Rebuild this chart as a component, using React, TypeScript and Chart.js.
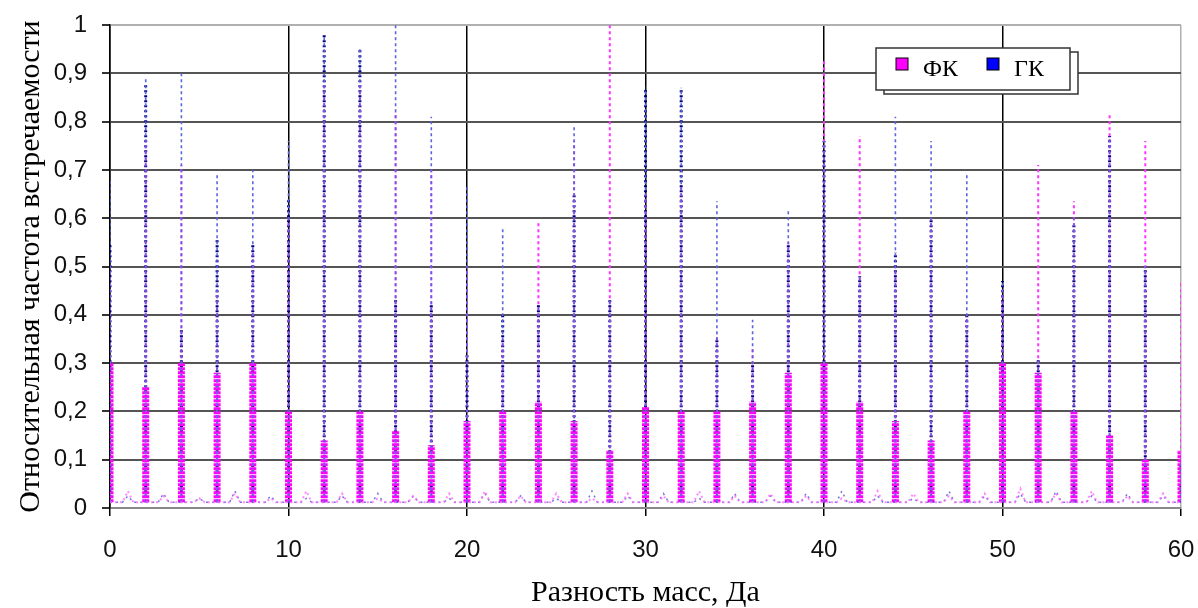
import React, { useEffect, useRef } from "react";
import { Chart, registerables } from "chart.js";

Chart.register(...registerables);

// Even mass differences where the peaks sit
const peakPositions = [0, 2, 4, 6, 8, 10, 12, 14, 16, 18, 20, 22, 24, 26, 28, 30, 32, 34, 36, 38, 40, 42, 44, 46, 48, 50, 52, 54, 56, 58, 60];
// ФК (magenta): top of the thin part and height of the thick core
const fkPeak = [0.5, 0.76, 0.71, 0.45, 0.53, 0.6, 0.88, 0.88, 0.82, 0.7, 0.5, 0.35, 0.59, 0.76, 1.0, 0.65, 0.67, 0.36, 0.33, 0.55, 0.93, 0.77, 0.5, 0.6, 0.4, 0.45, 0.71, 0.635, 0.815, 0.76, 0.47];
const fkCore = [0.3, 0.25, 0.3, 0.28, 0.3, 0.2, 0.14, 0.2, 0.16, 0.13, 0.18, 0.2, 0.22, 0.18, 0.12, 0.21, 0.2, 0.2, 0.22, 0.28, 0.3, 0.22, 0.18, 0.14, 0.2, 0.3, 0.28, 0.2, 0.15, 0.1, 0.12];
// ГК (blue): top of the thin part and height of the dense dark part
const gkPeak = [0.68, 0.89, 0.9, 0.69, 0.7, 0.76, 0.98, 0.95, 1.0, 0.81, 0.67, 0.58, 0.42, 0.79, 0.43, 0.87, 0.87, 0.635, 0.39, 0.62, 0.76, 0.48, 0.81, 0.76, 0.69, 0.47, 0.31, 0.6, 0.77, 0.5, 0.1];
const gkCore = [0.55, 0.88, 0.37, 0.56, 0.55, 0.64, 0.98, 0.95, 0.43, 0.42, 0.32, 0.4, 0.42, 0.65, 0.43, 0.87, 0.87, 0.35, 0.3, 0.55, 0.76, 0.48, 0.53, 0.6, 0.4, 0.47, 0.31, 0.59, 0.77, 0.5, 0.1];
// Small bumps at odd mass differences
const bumpPositions = [1, 3, 5, 7, 9, 11, 13, 15, 17, 19, 21, 23, 25, 27, 29, 31, 33, 35, 37, 39, 41, 43, 45, 47, 49, 51, 53, 55, 57, 59];
const fkBump = [0.035, 0.025, 0.02, 0.03, 0.02, 0.035, 0.03, 0.02, 0.025, 0.03, 0.035, 0.025, 0.03, 0.02, 0.03, 0.025, 0.035, 0.025, 0.03, 0.025, 0.02, 0.035, 0.03, 0.025, 0.03, 0.04, 0.03, 0.035, 0.025, 0.03];
const gkBump = [0.025, 0.03, 0.02, 0.035, 0.025, 0.02, 0.025, 0.03, 0.025, 0.02, 0.03, 0.025, 0.02, 0.035, 0.025, 0.03, 0.02, 0.03, 0.025, 0.03, 0.035, 0.025, 0.02, 0.035, 0.025, 0.03, 0.035, 0.025, 0.03, 0.025];
const baseLevel = 0.012;

const seriesLabels = ["ФК", "ГК"];
const legendColors = ["#ff00ff", "#0000ff"];
const xTitle = "Разность масс, Да";
const yTitle = "Относительная частота встречаемости";

function spikes(xs: number[], hs: number[]) {
  const pts: any[] = [];
  xs.forEach((x, i) => {
    pts.push({ x, y: baseLevel });
    pts.push({ x, y: hs[i] });
    pts.push({ x: x + 0.001, y: null });
  });
  return pts;
}

function baseline(xs: number[], hs: number[]) {
  const pts: any[] = [{ x: 0, y: baseLevel }];
  xs.forEach((x, i) => {
    pts.push({ x: x - 0.3, y: baseLevel });
    pts.push({ x, y: hs[i] });
    pts.push({ x: x + 0.3, y: baseLevel });
  });
  pts.push({ x: 60, y: baseLevel });
  return pts;
}

const legendPlugin = {
  id: "boxLegend",
  afterDraw(chart: any) {
    const { ctx, chartArea } = chart;
    const left = chartArea.right - 305;
    const top = chartArea.top + 23;
    const w = 194;
    const h = 42;
    ctx.save();
    ctx.lineWidth = 1.5;
    ctx.strokeStyle = "#333";
    ctx.fillStyle = "#fff";
    ctx.fillRect(left + 8, top + 4, w, h);
    ctx.strokeRect(left + 8, top + 4, w, h);
    ctx.fillRect(left, top, w, h);
    ctx.strokeRect(left, top, w, h);
    const itemX = [left + 20, left + 111];
    seriesLabels.forEach((lab, i) => {
      ctx.fillStyle = legendColors[i];
      ctx.fillRect(itemX[i], top + 10, 12, 12);
      ctx.lineWidth = 1;
      ctx.strokeStyle = "#000";
      ctx.strokeRect(itemX[i], top + 10, 12, 12);
      ctx.fillStyle = "#000";
      ctx.font = "24px 'Liberation Serif', serif";
      ctx.textBaseline = "middle";
      ctx.fillText(lab, itemX[i] + 27, top + 22);
    });
    ctx.restore();
  },
};

export default function App() {
  const ref = useRef<HTMLCanvasElement>(null);
  useEffect(() => {
    if (!ref.current) return;
    const chart = new Chart(ref.current, {
      type: "line",
      data: {
        datasets: [
          {
            label: "base-fk",
            data: baseline(bumpPositions, fkBump),
            borderColor: "rgba(255,110,255,0.8)",
            borderWidth: 2,
            borderDash: [2, 3],
            pointRadius: 0,
          },
          {
            label: "base-gk",
            data: baseline(bumpPositions, gkBump),
            borderColor: "rgba(60,60,200,0.7)",
            borderWidth: 1.5,
            borderDash: [2, 4],
            pointRadius: 0,
          },
          {
            label: seriesLabels[1] + " thin",
            data: spikes(peakPositions, gkPeak),
            borderColor: "#5a64dc",
            borderWidth: 1.6,
            borderDash: [3, 3],
            pointRadius: 0,
            spanGaps: false,
          },
          {
            label: seriesLabels[0] + " thin",
            data: spikes(peakPositions, fkPeak),
            borderColor: "#ff33ff",
            borderWidth: 2,
            borderDash: [3, 3],
            pointRadius: 0,
            spanGaps: false,
          },
          {
            label: seriesLabels[0],
            data: spikes(peakPositions, fkCore),
            borderColor: "#ff00ff",
            borderWidth: 7,
            borderDash: [3, 1],
            pointRadius: 0,
            spanGaps: false,
          },
          {
            label: seriesLabels[1],
            data: spikes(peakPositions, gkCore),
            borderColor: "#000080",
            borderWidth: 3,
            borderDash: [2, 3],
            pointRadius: 0,
            spanGaps: false,
          },
        ],
      },
      options: {
        animation: false,
        responsive: true,
        maintainAspectRatio: false,
        layout: { padding: { top: 25, right: 17, left: 0, bottom: 0 } },
        plugins: { legend: { display: false }, tooltip: { enabled: false } },
        elements: { line: { tension: 0 } },
        scales: {
          x: {
            type: "linear",
            min: 0,
            max: 60,
            afterFit: (s: any) => {
              s.height = 100;
              s.paddingLeft = 0;
              s.paddingRight = 0;
            },
            ticks: {
              stepSize: 10,
              color: "#111",
              font: { family: "'Liberation Sans', Arial, sans-serif", size: 24 },
              padding: 20,
              maxRotation: 0,
            },
            grid: {
              color: (c: any) => (c.tick && c.tick.value === 60 ? "#b0b0b0" : "#000"),
              lineWidth: 1.5,
              tickLength: 8,
              tickColor: "#000",
            },
            border: { display: true, color: "#888", width: 2 },
            title: {
              display: true,
              text: xTitle,
              color: "#000",
              font: { family: "'Liberation Serif', 'Times New Roman', serif", size: 30, lineHeight: 1 },
              padding: { top: 0, bottom: 0 },
            },
          },
          y: {
            min: 0,
            max: 1,
            afterFit: (s: any) => {
              s.width = 110;
              s.paddingTop = 0;
              s.paddingBottom = 0;
            },
            ticks: {
              stepSize: 0.1,
              color: "#111",
              font: { family: "'Liberation Sans', Arial, sans-serif", size: 24 },
              padding: 15,
              callback: (v: any) => {
                const n = Math.round(Number(v) * 10) / 10;
                if (n === 0) return "0";
                if (n === 1) return "1";
                return n.toFixed(1).replace(".", ",");
              },
            },
            grid: {
              color: (c: any) => (c.tick && c.tick.value >= 0.99 ? "#b0b0b0" : "#555"),
              lineWidth: 2,
              tickLength: 8,
              tickColor: "#333",
            },
            border: { display: true, color: "#000", width: 1.5 },
            title: {
              display: true,
              text: yTitle,
              color: "#000",
              font: { family: "'Liberation Serif', 'Times New Roman', serif", size: 30, lineHeight: 1 },
              padding: { top: 16, bottom: 0 },
            },
          },
        },
      },
      plugins: [legendPlugin],
    });
    return () => chart.destroy();
  }, []);
  return (
    <div style={{ position: "fixed", left: 0, top: 0, width: 1198, height: 608, background: "#fff" }}>
      <canvas ref={ref} />
    </div>
  );
}
